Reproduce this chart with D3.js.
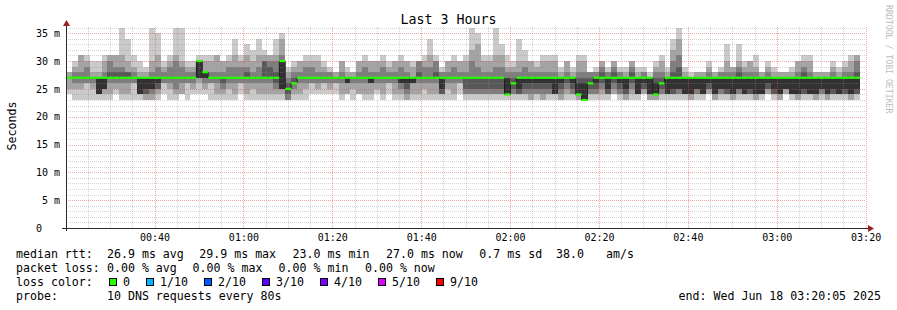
<!DOCTYPE html>
<html>
<head>
<meta charset="utf-8">
<script src="https://cdn.jsdelivr.net/npm/d3@7"></script>
<style>
  body { margin: 0; background: #fff; }
  text { font-family: "DejaVu Sans Mono", monospace; fill: #000; }
</style>
</head>
<body>
<svg id="chart" width="897" height="310"></svg>
<script>
// graph window and probe step
const start = new Date(2025, 5, 18, 0, 20, 5);
const end = new Date(2025, 5, 18, 3, 20, 5);
const stepSec = 80;

// 10 sorted DNS rtts (ms) per 80s step
const pings = [
  [24,25,27,27,27,27,27,27,28,28], [23,25,26,27,27,27,27,28,29,30], [23,25,26,27,27,27,27,28,31,31],
  [23,26,26,27,27,27,27,29,30,31], [23,25,26,27,27,27,27,27,28,30], [23,24,24,24,24,27,27,27,28,30],
  [23,24,25,25,25,27,27,28,30,31], [23,24,26,27,27,27,28,30,31,31], [24,25,26,27,27,27,28,29,31,31],
  [23,24,26,27,27,27,28,29,31,36], [23,24,26,27,27,27,28,28,30,34], [23,26,26,27,27,27,27,28,29,31],
  [23,24,24,24,24,27,27,27,28,30], [23,23,24,24,25,27,27,27,28,29], [23,23,24,25,25,27,27,28,30,36],
  [23,24,25,25,26,27,27,29,31,35], [24,26,26,27,27,27,27,28,29,30], [23,25,26,27,27,27,27,29,30,31],
  [23,24,25,27,27,27,27,30,31,36], [24,24,26,27,27,27,27,29,30,36], [23,26,26,27,27,27,27,28,29,30],
  [24,25,26,27,27,27,27,28,29,30], [24,26,27,27,27,30,30,30,30,31], [24,25,26,27,27,28,28,28,30,31],
  [23,26,26,27,27,27,27,28,30,31], [23,24,26,27,27,27,27,28,31,31], [23,24,25,26,27,27,27,28,30,30],
  [23,25,26,27,27,27,27,29,30,31], [23,24,26,27,27,27,27,29,31,34], [24,26,26,27,27,27,27,29,30,31],
  [23,24,26,27,27,27,28,29,31,33], [23,25,26,27,27,27,27,28,30,32], [23,24,26,27,27,27,27,29,31,34],
  [23,24,26,27,27,27,30,30,31,32], [23,24,26,27,27,27,29,30,31,31], [23,24,25,26,27,27,28,30,31,34],
  [23,24,25,25,25,30,30,31,34,35], [23,23,23,24,25,25,26,27,28,29], [23,24,25,26,26,26,27,28,29,30],
  [23,24,26,27,27,27,27,28,30,30], [23,25,26,27,27,27,27,29,30,31], [24,26,26,27,27,27,27,29,30,31],
  [24,25,26,27,27,27,27,28,30,31], [24,26,26,27,27,27,27,28,29,30], [24,25,26,27,27,27,27,28,28,29],
  [24,26,26,27,27,27,27,27,28,28], [23,24,26,27,27,27,27,28,30,30], [24,24,26,26,26,27,27,27,28,29],
  [23,25,26,27,27,27,27,27,28,28], [24,24,26,27,27,27,27,28,30,30], [23,24,26,27,27,27,27,29,30,31],
  [23,24,26,26,26,27,27,28,30,30], [24,25,26,27,27,27,27,28,30,30], [23,24,26,27,27,27,27,29,30,31],
  [24,26,26,27,27,27,27,28,29,30], [23,24,26,27,27,27,27,28,30,30], [23,24,25,26,26,27,27,29,30,31],
  [23,23,24,25,26,27,27,28,30,30], [23,24,26,26,26,27,27,27,29,30], [23,24,26,27,27,27,28,30,30,30],
  [23,25,26,27,27,27,27,29,30,31], [23,24,26,27,27,27,27,29,31,34], [23,24,26,27,27,27,28,30,30,31],
  [23,24,24,24,25,27,27,28,28,29], [23,25,26,27,27,27,27,28,30,30], [23,24,26,27,27,27,27,29,30,31],
  [24,26,26,27,27,27,27,28,30,30], [23,24,24,25,27,27,27,28,30,31], [23,24,24,25,27,27,27,30,32,36],
  [23,24,24,25,27,27,27,29,33,35], [23,24,24,25,27,27,27,28,30,31], [23,24,24,25,27,27,27,28,30,31],
  [23,24,24,25,27,27,27,29,31,36], [23,24,24,25,27,27,27,29,31,33], [23,24,24,24,24,27,27,28,29,31],
  [23,24,24,25,26,26,27,28,29,30], [23,24,24,24,25,27,27,28,30,34], [23,24,24,25,26,27,27,29,30,32],
  [23,23,24,25,26,27,27,28,30,30], [23,24,24,25,26,27,27,28,29,30], [23,23,24,25,26,27,27,28,30,31],
  [23,24,24,25,26,27,27,28,30,31], [23,24,24,24,24,27,27,28,30,31], [23,23,24,25,26,27,27,27,28,29],
  [23,24,25,26,27,27,27,28,30,30], [23,24,24,25,26,27,27,27,28,29], [23,23,24,24,24,26,27,28,30,31],
  [23,23,23,23,23,26,27,28,30,31], [23,24,24,25,26,26,27,28,28,28], [23,24,24,25,26,27,27,28,28,29],
  [23,24,25,26,27,27,28,29,30,30], [23,24,24,24,25,27,27,28,28,29], [24,24,25,26,27,27,28,29,30,30],
  [23,24,24,25,26,27,27,28,28,29], [23,23,24,24,25,27,27,27,28,29], [23,24,25,26,27,27,28,29,30,30],
  [23,24,24,24,24,27,27,27,28,29], [24,24,25,25,26,27,27,28,28,29], [23,23,24,24,24,27,27,27,27,28],
  [23,23,24,24,24,26,27,28,29,30], [23,24,24,25,26,26,27,28,30,31], [23,24,24,24,24,27,27,27,28,29],
  [23,24,24,24,25,27,28,30,32,34], [23,24,24,25,25,27,29,31,34,36], [23,24,24,24,24,27,27,27,28,29],
  [23,23,24,24,24,27,27,27,27,28], [23,24,24,25,25,27,27,27,28,28], [23,24,24,24,24,27,27,27,28,28],
  [24,24,25,25,26,27,27,28,29,30], [23,23,24,24,24,27,27,27,28,28], [23,24,24,25,25,27,27,28,28,29],
  [23,24,24,24,25,27,27,28,30,33], [23,23,24,24,24,27,27,28,29,29], [23,24,24,25,25,27,28,29,30,33],
  [23,24,24,24,24,27,27,28,29,30], [23,24,24,24,25,27,27,28,30,30], [23,23,24,24,24,27,27,28,29,31],
  [23,24,24,24,24,27,27,27,28,28], [24,24,25,25,26,27,27,28,29,30], [23,24,24,24,25,27,27,27,28,29],
  [23,23,24,24,24,27,27,27,28,28], [24,24,25,25,25,27,27,27,28,28], [23,24,24,24,24,27,27,27,28,29],
  [23,23,24,24,24,27,27,28,30,30], [23,24,24,24,25,27,28,29,30,31], [23,24,24,24,24,27,27,28,30,31],
  [23,23,24,24,24,27,27,27,28,28], [23,24,24,25,25,27,27,27,28,28], [23,23,24,24,24,27,27,27,28,28],
  [23,24,24,24,25,27,27,28,29,30], [23,24,24,24,24,27,27,27,28,29], [23,24,24,24,25,27,27,28,29,30],
  [23,23,24,24,24,27,27,28,30,31], [23,24,24,24,25,27,28,30,31,31]
];

// median rtt (ms) per step, all steps had 0 loss
const median = [
  27,27,27,27,27,27,27,27,27,27, 27,27,27,27,27,27,27,27,27,27,
  27,27,30,28,27,27,27,27,27,27, 27,27,27,27,27,27,30,25,26,27,
  27,27,27,27,27,27,27,27,27,27, 27,27,27,27,27,27,27,27,27,27,
  27,27,27,27,27,27,27,27,27,27, 27,27,27,27,24,26,27,27,27,27,
  27,27,27,27,27,27,24,23,26,27, 27,27,27,27,27,27,27,27,27,24,
  26,27,27,27,27,27,27,27,27,27, 27,27,27,27,27,27,27,27,27,27,
  27,27,27,27,27,27,27,27,27,27, 27,27,27,27
];

const yTicks = [0, 5, 10, 15, 20, 25, 30, 35];
const lossLabels = ["0", "1/10", "2/10", "3/10", "4/10", "5/10", "9/10"];
const lossColors = ["#26ff00", "#00b8ff", "#0059ff", "#5e00ff", "#7e00ff", "#dd00ff", "#ff0000"];
const smokeShades = ["#cacaca", "#a4a4a4", "#7e7e7e", "#585858", "#323232"];

const svg = d3.select("#chart");
const x = d3.scaleTime().domain([start, end]).range([66, 866]);
const y = d3.scaleLinear().domain([0, 36.3]).range([228, 26]);
const colT = k => d3.timeSecond.offset(start, k * stepSec);

// smoke: band b spans ping b .. ping 9-b, darker towards the middle
const bands = [];
pings.forEach((p, k) => {
  for (let b = 0; b < 5; b++) bands.push({ k, lo: p[b], hi: p[9 - b], b });
});
svg.append("g")
    .attr("shape-rendering", "crispEdges")
  .selectAll("rect")
  .data(bands)
  .join("rect")
    .attr("x", d => x(colT(d.k)))
    .attr("width", d => x(colT(d.k + 1)) - x(colT(d.k)))
    .attr("y", d => y(d.hi))
    .attr("height", d => y(d.lo) - y(d.hi))
    .attr("fill", d => smokeShades[d.b]);

// grid on top of the smoke
const grid = svg.append("g").attr("fill", "none");
const minorX = d3.timeMinute.every(5).range(start, end);
grid.selectAll("line.vx")
  .data(minorX)
  .join("line")
    .attr("x1", d => Math.round(x(d)) + 0.5)
    .attr("x2", d => Math.round(x(d)) + 0.5)
    .attr("y1", 228).attr("y2", 26)
    .attr("stroke", d => d.getMinutes() % 20 === 0 ? "rgba(222,80,80,0.5)" : "rgba(143,143,143,0.38)")
    .attr("stroke-dasharray", "1,1");
grid.selectAll("line.hy")
  .data(d3.range(1, 37))
  .join("line")
    .attr("x1", 66).attr("x2", 866)
    .attr("y1", d => Math.round(y(d)) + 0.5)
    .attr("y2", d => Math.round(y(d)) + 0.5)
    .attr("stroke", d => d % 5 === 0 ? "rgba(222,80,80,0.5)" : "rgba(143,143,143,0.38)")
    .attr("stroke-dasharray", "1,1");

// median: thin dark step line with loss coloured bars
const medLine = d3.line()
    .x(d => x(colT(d.k)))
    .y(d => y(d.v))
    .curve(d3.curveStepAfter);
const medPts = median.map((v, k) => ({ k, v }));
medPts.push({ k: median.length, v: median[median.length - 1] });
svg.append("path")
    .attr("d", medLine(medPts))
    .attr("fill", "none")
    .attr("stroke", "#202020")
    .attr("stroke-width", 1);
svg.append("g")
  .selectAll("rect")
  .data(median)
  .join("rect")
    .attr("x", (d, k) => x(colT(k)))
    .attr("width", (d, k) => x(colT(k + 1)) - x(colT(k)))
    .attr("y", d => y(d) - 1.1)
    .attr("height", 2.2)
    .attr("fill", lossColors[0]);

// axes
const xAxis = d3.axisBottom(x)
    .tickValues(d3.timeMinute.every(20).range(start, end))
    .tickFormat(d3.timeFormat("%H:%M"))
    .tickSize(0).tickPadding(6);
const gx = svg.append("g").attr("transform", "translate(0,228)").call(xAxis);
gx.select(".domain").remove();
gx.selectAll("text").style("font-size", "10px").style("fill", "#000");

const yAxis = d3.axisLeft(y)
    .tickValues(yTicks)
    .tickFormat(d => d === 0 ? "0" : d + " m")
    .tickSize(0).tickPadding(6);
const gy = svg.append("g").attr("transform", "translate(66,0)").call(yAxis);
gy.select(".domain").remove();
gy.selectAll("text").style("font-size", "10px").style("fill", "#000")
    .attr("dx", d => d === 0 ? -18 : 0);

svg.append("line").attr("x1", 62).attr("x2", 869).attr("y1", 228.5).attr("y2", 228.5)
    .attr("stroke", "#2c2c2c");
svg.append("line").attr("x1", 66.5).attr("x2", 66.5).attr("y1", 231).attr("y2", 25)
    .attr("stroke", "#2c2c2c");
svg.append("path").attr("d", "M868,225L874,228.5L868,232Z").attr("fill", "#9b2020");
svg.append("path").attr("d", "M63,26L66.5,20L70,26Z").attr("fill", "#9b2020");

// titles
svg.append("text").attr("x", 448.5).attr("y", 23.5).attr("text-anchor", "middle")
    .style("font-size", "13.3px").text("Last 3 Hours");
svg.append("text").attr("transform", "translate(15.5,126) rotate(-90)").attr("text-anchor", "middle")
    .style("font-size", "11.6px").text("Seconds");
svg.append("text").attr("transform", "translate(885.5,5) rotate(90)")
    .style("font-size", "8.2px").style("fill", "#bdbdbd").text("RRDTOOL / TOBI OETIKER");

// legend
const legend = svg.append("g").style("font-size", "11.6px");
function row(yy, parts) {
  parts.forEach(([xx, s]) => legend.append("text").attr("x", xx).attr("y", yy).text(s));
}
row(258.3, [[16, "median rtt:"], [107, "26.9 ms avg"], [199.3, "29.9 ms max"], [292.6, "23.0 ms min"],
            [386, "27.0 ms now"], [479.3, "0.7 ms sd"], [556, "38.0"], [606, "am/s"]]);
row(272.1, [[16, "packet loss:"], [107, "0.00 % avg"], [192.6, "0.00 % max"], [278.6, "0.00 % min"],
            [365, "0.00 % now"]]);
row(285.9, [[16, "loss color:"]]);
let bx = 109;
lossLabels.forEach((lab, i) => {
  legend.append("rect").attr("x", bx + 0.5).attr("y", 278.5).attr("width", 7).attr("height", 7)
      .attr("fill", lossColors[i]).attr("stroke", "#000").attr("stroke-width", 1);
  legend.append("text").attr("x", bx + 14).attr("y", 285.9).text(lab);
  bx = bx + 14.5 + lab.length * 7 + 15.5;
});
row(299.7, [[16, "probe:"], [107, "10 DNS requests every 80s"]]);
legend.append("text").attr("x", 881).attr("y", 299.7).attr("text-anchor", "end")
    .text("end: Wed Jun 18 03:20:05 2025");
</script>
</body>
</html>
